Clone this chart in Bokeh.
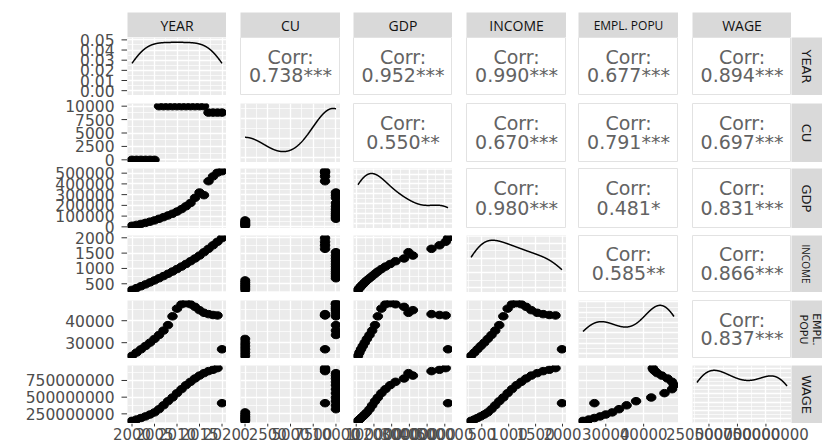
import numpy as np
from bokeh.plotting import figure
from bokeh.layouts import row, column
from bokeh.models import (Range1d, FixedTicker, BasicTicker, Grid, Spacer)
from bokeh.core.properties import value
from bokeh.embed import file_html
from bokeh.resources import INLINE

# ---------------- data (annual observations) ----------------
YEAR = [2000, 2001, 2002, 2003, 2004, 2005, 2006, 2007, 2008, 2009, 2010,
        2011, 2012, 2013, 2014, 2015, 2016, 2017, 2018, 2019, 2020]
CU = [0, 0, 0, 0, 0, 0, 10000, 10000, 10000, 10000, 10000,
      10000, 10000, 10000, 10000, 10000, 10000, 8800, 8800, 8800, 8800]
GDP = [10000, 18000, 27000, 37000, 48000, 60000, 75000, 90000, 106000, 122000, 142000,
       165000, 192000, 222000, 270000, 320000, 295000, 425000, 470000, 505000, 518000]
INCOME = [300, 360, 420, 480, 545, 610, 680, 750, 825, 900, 980,
          1060, 1145, 1235, 1325, 1420, 1530, 1640, 1755, 1870, 1990]
EMPL_POPU = [24000, 25500, 27000, 28500, 30000, 31700, 33500, 35500, 38000, 42000, 45500,
             47500, 48000, 47500, 46300, 44800, 43600, 43000, 42600, 42400, 27000]
WAGE = [145000000, 165000000, 188000000, 212000000, 240000000, 272000000, 320000000,
        378000000, 440000000, 495000000, 560000000, 620000000, 680000000, 730000000,
        780000000, 823000000, 860000000, 890000000, 910000000, 935000000, 410000000]

NAMES = ["YEAR", "CU", "GDP", "INCOME", "EMPL. POPU", "WAGE"]

# axis breaks
YEAR_TICKS = [2000, 2005, 2010, 2015, 2020]
CU_TICKS = [0, 2500, 5000, 7500, 10000]
GDP_TICKS = [0, 100000, 200000, 300000, 400000, 500000]
INCOME_TICKS = [500, 1000, 1500, 2000]
EMPL_TICKS = [30000, 40000]
WAGE_TICKS = [250000000, 500000000, 750000000]
DENSITY_TICKS = [0.00, 0.01, 0.02, 0.03, 0.04, 0.05]

# upper-triangle correlation labels, row by row
CORR_YEAR = ["0.738***", "0.952***", "0.990***", "0.677***", "0.894***"]
CORR_CU = ["0.550**", "0.670***", "0.791***", "0.697***"]
CORR_GDP = ["0.980***", "0.481*", "0.831***"]
CORR_INCOME = ["0.585**", "0.866***"]
CORR_EMPL = ["0.837***"]

DATA = [YEAR, CU, GDP, INCOME, EMPL_POPU, WAGE]
TICKS = [YEAR_TICKS, CU_TICKS, GDP_TICKS, INCOME_TICKS, EMPL_TICKS, WAGE_TICKS]
CORR = [CORR_YEAR, CORR_CU, CORR_GDP, CORR_INCOME, CORR_EMPL, []]
RIGHT_LABELS = ["YEAR", "CU", "GDP", "INCOME", "EMPL.\nPOPU", "WAGE"]

# ---------------- layout geometry (pixels) ----------------
LEFT_W = 127                      # room for the row tick labels
COL_GAP = [0, 14, 13, 14, 12, 14]
COL_FRAME = [99, 100, 99, 100, 100, 99]
ROW_GAP = [0, 8, 6, 7, 8, 7]
ROW_FRAME = [58, 59, 60, 57, 58, 58]
STRIP_TOP, STRIP_H, RIGHT_W, BOTTOM_H = 12, 25, 31, 21

PANEL_BG = "#EBEBEB"
STRIP_BG = "#D9D9D9"
TICK_TEXT = "#4D4D4D"
TICK_LINE = "#333333"
CORR_TEXT = "#636363"
N = len(DATA)

GRID_H = STRIP_TOP + STRIP_H + sum(ROW_GAP) + sum(ROW_FRAME)
TOTAL_W = LEFT_W + sum(COL_GAP) + sum(COL_FRAME) + RIGHT_W

# pixel position of every panel frame
ROW_TOP, y = [], STRIP_TOP + STRIP_H
for i in range(N):
    y += ROW_GAP[i]
    ROW_TOP.append(y)
    y += ROW_FRAME[i]
COL_LEFT, x = [], LEFT_W
for j in range(N):
    x += COL_GAP[j]
    COL_LEFT.append(x)
    x += COL_FRAME[j]


def data_range(v):
    lo, hi = min(v), max(v)
    pad = 0.05 * (hi - lo)
    return lo - pad, hi + pad


def minor_of(ticks, lo, hi):
    step = ticks[1] - ticks[0]
    cand = [ticks[0] - step / 2] + [t + step / 2 for t in ticks]
    return [c for c in cand if lo <= c <= hi]


def bw_nrd0(x):
    x = np.asarray(x, float)
    sd = x.std(ddof=1)
    q75, q25 = np.percentile(x, [75, 25])
    lo = min(sd, (q75 - q25) / 1.34)
    if lo <= 0:
        lo = sd
    return 0.9 * lo * len(x) ** -0.2


def kde(x, n=512):
    x = np.asarray(x, float)
    bw = bw_nrd0(x)
    grid = np.linspace(x.min(), x.max(), n)
    z = (grid[:, None] - x[None, :]) / bw
    d = np.exp(-0.5 * z ** 2).sum(axis=1) / (len(x) * bw * np.sqrt(2 * np.pi))
    return grid, d


def new_fig(w, h, xr, yr, bg, left=0, top=0, bottom=0, right=0):
    return figure(width=w, height=h, x_range=xr, y_range=yr,
                  x_axis_type=None, y_axis_type=None,
                  output_backend="svg", toolbar_location=None,
                  min_border_left=left, min_border_right=right,
                  min_border_top=top, min_border_bottom=bottom,
                  background_fill_color=bg, border_fill_color="white",
                  outline_line_color=None)


def add_grid(p, dim, ticker):
    p.add_layout(Grid(dimension=dim, ticker=ticker,
                      grid_line_color="white", grid_line_width=1.3,
                      minor_grid_line_color="white", minor_grid_line_width=0.7))


def fmt(t, density=False):
    return f"{t:.2f}" if density else f"{int(round(t))}"


RANGES = [data_range(v) for v in DATA]
DENS = [kde(v) for v in DATA]
DENS_LIM = [(-0.1 * d.max(), 1.1 * d.max()) for _, d in DENS]

# y limits used by each row of panels (row 0 shows the YEAR density scale)
ROW_LIM = [DENS_LIM[0]] + RANGES[1:]
ROW_TICKS = [DENSITY_TICKS] + TICKS[1:]

rows = []

# facet strips on top
strip_cells = []
for j in range(N):
    s = new_fig(COL_GAP[j] + COL_FRAME[j], STRIP_TOP + STRIP_H, Range1d(0, 1), Range1d(0, 1),
                STRIP_BG, left=COL_GAP[j], top=STRIP_TOP)
    s.text(x=[0.5], y=[0.5], text=[NAMES[j]], text_align="center", text_baseline="middle",
           text_font=value("Open Sans"),
           text_font_size="12px" if NAMES[j] == "EMPL. POPU" else "14px",
           text_color="#111111")
    strip_cells.append(s)
strip_cells.append(Spacer(width=RIGHT_W, height=STRIP_TOP + STRIP_H))
rows.append(row(*strip_cells, spacing=0))

for i in range(N):
    cells = []
    top = ROW_GAP[i]
    h = top + ROW_FRAME[i]
    for j in range(N):
        w = COL_GAP[j] + COL_FRAME[j]
        xlo, xhi = RANGES[j]
        xticker = FixedTicker(ticks=TICKS[j], minor_ticks=minor_of(TICKS[j], xlo, xhi))
        if i == j:
            # diagonal: kernel density of the variable
            gx, gy = DENS[i]
            ylo, yhi = DENS_LIM[i]
            p = new_fig(w, h, Range1d(xlo, xhi), Range1d(ylo, yhi), PANEL_BG,
                        left=COL_GAP[j], top=top)
            if i == 0:
                yticker = FixedTicker(ticks=DENSITY_TICKS,
                                      minor_ticks=minor_of(DENSITY_TICKS, ylo, yhi))
            else:
                yticker = BasicTicker(desired_num_ticks=5, num_minor_ticks=2)
            add_grid(p, 0, xticker)
            add_grid(p, 1, yticker)
            p.line(gx, gy, line_color="black", line_width=1.5)
        elif i > j:
            # lower triangle: scatter of row variable against column variable
            ylo, yhi = RANGES[i]
            yticker = FixedTicker(ticks=TICKS[i], minor_ticks=minor_of(TICKS[i], ylo, yhi))
            p = new_fig(w, h, Range1d(xlo, xhi), Range1d(ylo, yhi), PANEL_BG,
                        left=COL_GAP[j], top=top)
            add_grid(p, 0, xticker)
            add_grid(p, 1, yticker)
            p.ellipse(x=DATA[j], y=DATA[i], width=9.5, height=7.5,
                      width_units="screen", height_units="screen",
                      fill_color="black", line_color="black")
        else:
            # upper triangle: correlation text
            p = new_fig(w, h, Range1d(0, 1), Range1d(0, 1), "white",
                        left=COL_GAP[j], top=top)
            p.outline_line_color = "#E2E2E2"
            p.text(x=[0.5], y=[0.67], text=["Corr:"], text_align="center",
                   text_baseline="middle", text_font=value("DejaVu Sans"),
                   text_font_size="19px", text_color=CORR_TEXT)
            p.text(x=[0.5], y=[0.345], text=[CORR[i][j - i - 1]], text_align="center",
                   text_baseline="middle", text_font=value("DejaVu Sans"),
                   text_font_size="19px", text_color=CORR_TEXT)
        cells.append(p)
    # facet strip on the right
    r = new_fig(RIGHT_W, h, Range1d(0, 1), Range1d(0, 1), STRIP_BG, top=top)
    lab = RIGHT_LABELS[i]
    small = lab == "INCOME"
    two_line = "\n" in lab
    r.text(x=[0.6 if two_line else 0.47], y=[0.5], text=[lab], angle=-np.pi / 2,
           text_align="center", text_baseline="middle",
           text_font=value("Open Sans" if small else "DejaVu Sans"),
           text_font_size="10px" if small else ("11px" if two_line else "13px"),
           text_line_height=1.0, text_color="#1A1A1A")
    cells.append(r)
    rows.append(row(*cells, spacing=0))

# ---- row tick labels: one tall figure, one y-scale per panel row ----
left = new_fig(LEFT_W, GRID_H, Range1d(0, LEFT_W), Range1d(0, GRID_H), "white")
yr = {}
for i in range(N):
    lo, hi = ROW_LIM[i]
    per_px = (hi - lo) / ROW_FRAME[i]
    bottom_px = GRID_H - (ROW_TOP[i] + ROW_FRAME[i])
    start = lo - bottom_px * per_px
    yr[f"r{i}"] = Range1d(start, start + GRID_H * per_px)
left.extra_y_ranges = yr
for i in range(N):
    tk = ROW_TICKS[i]
    left.segment(x0=[LEFT_W - 6] * len(tk), x1=[LEFT_W] * len(tk), y0=tk, y1=tk,
                 line_color=TICK_LINE, line_width=1, y_range_name=f"r{i}")
    left.text(x=[LEFT_W - 13] * len(tk), y=tk, text=[fmt(t, i == 0) for t in tk],
              text_align="right", text_baseline="middle",
              text_font=value("DejaVu Sans"), text_font_size="15.5px",
              text_color=TICK_TEXT, y_range_name=f"r{i}")

# ---- column tick labels: one wide figure, one x-scale per panel column ----
bottom = new_fig(TOTAL_W, BOTTOM_H, Range1d(0, TOTAL_W), Range1d(0, BOTTOM_H), "white")
xr = {}
for j in range(N):
    lo, hi = RANGES[j]
    per_px = (hi - lo) / COL_FRAME[j]
    start = lo - COL_LEFT[j] * per_px
    xr[f"c{j}"] = Range1d(start, start + TOTAL_W * per_px)
bottom.extra_x_ranges = xr
for j in range(N):
    tk = TICKS[j]
    bottom.segment(x0=tk, x1=tk, y0=[BOTTOM_H] * len(tk), y1=[BOTTOM_H - 3] * len(tk),
                   line_color=TICK_LINE, line_width=1, x_range_name=f"c{j}")
    bottom.text(x=tk, y=[BOTTOM_H - 4] * len(tk), text=[fmt(t) for t in tk],
                text_align="center", text_baseline="top",
                text_font=value("DejaVu Sans"), text_font_size="15px",
                text_color=TICK_TEXT, x_range_name=f"c{j}")

layout = column(row(left, column(*rows, spacing=0), spacing=0), bottom, spacing=0)

open("out.html", "w").write(file_html(layout, INLINE))
